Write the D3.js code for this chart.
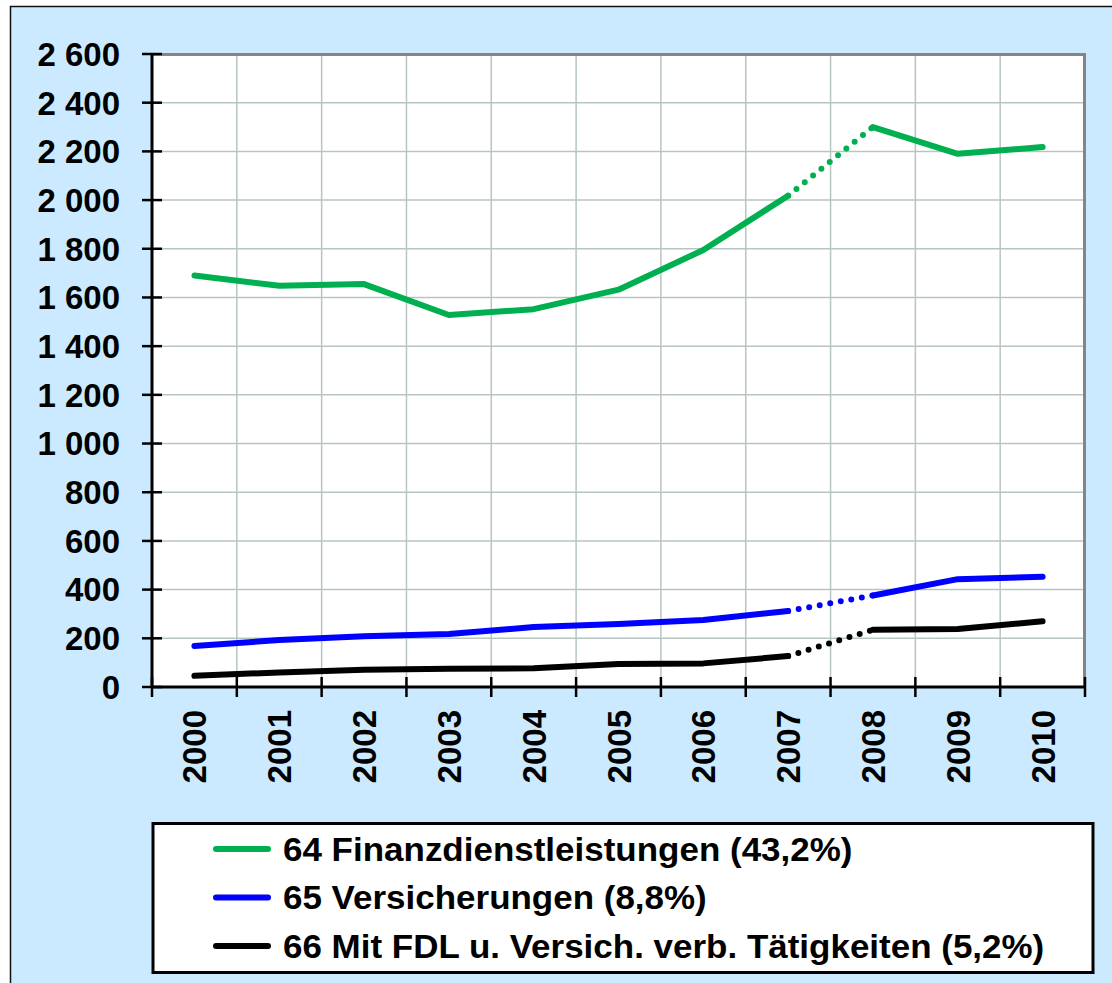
<!DOCTYPE html>
<html><head><meta charset="utf-8">
<script src="https://cdn.jsdelivr.net/npm/d3@7"></script>
<style>body{margin:0;background:#fff}svg{display:block}</style>
</head><body>
<script>
const years = ["2000","2001","2002","2003","2004","2005","2006","2007","2008","2009","2010"];
const finanz = [1690, 1648, 1655, 1528, 1552, 1632, 1795, 2018, 2300, 2190, 2218];
const versich = [168, 193, 208, 218, 246, 259, 275, 312, 376, 443, 453];
const taetig = [46, 60, 71, 75, 77, 94, 97, 127, 235, 238, 270];
const yTicks = [0,200,400,600,800,1000,1200,1400,1600,1800,2000,2200,2400,2600];
const seriesNames = ["64 Finanzdienstleistungen (43,2%)","65 Versicherungen (8,8%)","66 Mit FDL u. Versich. verb. Tätigkeiten (5,2%)"];
const seriesColors = ["#00b050","#0000ff","#000000"];
const dottedFrom = 7; // segment 2007 -> 2008 dotted

const W=1112,H=983;
const FONT="Liberation Sans, Arial, sans-serif";
const svg=d3.select("body").append("svg").attr("width",W).attr("height",H);
svg.append("rect").attr("x",10.5).attr("y",6.5).attr("width",1120).attr("height",1000)
  .attr("fill","#cceaff").attr("stroke","#111").attr("stroke-width",1.5);

const L=152,R=1085,T=54,B=687;
const x=d3.scaleBand().domain(years).range([L,R]).padding(0);
const y=d3.scaleLinear().domain([0,2600]).range([B,T]);

svg.append("rect").attr("x",L).attr("y",T).attr("width",R-L).attr("height",B-T).attr("fill","#fff");
// grid
const g=svg.append("g");
g.selectAll(".hg").data(yTicks).enter().append("line")
  .attr("x1",L).attr("x2",R).attr("y1",d=>y(d)).attr("y2",d=>y(d))
  .attr("stroke","#b7c5c2").attr("stroke-width",1.5);
const bounds=years.map(d=>x(d)).concat([R]);
g.selectAll(".vg").data(bounds).enter().append("line")
  .attr("x1",d=>d).attr("x2",d=>d).attr("y1",T).attr("y2",B)
  .attr("stroke","#b7c5c2").attr("stroke-width",1.5);
// plot border top/right
svg.append("path").attr("d",`M${L},${T+0.5}H${R-0.5}V${B}`).attr("fill","none")
  .attr("stroke","#858585").attr("stroke-width",3);

// axes
const yAxis=svg.append("g");
yAxis.append("line").attr("x1",L).attr("x2",L).attr("y1",T).attr("y2",B).attr("stroke","#000").attr("stroke-width",3);
yAxis.selectAll(".t").data(yTicks).enter().append("line")
  .attr("x1",L-10).attr("x2",L+10).attr("y1",d=>y(d)).attr("y2",d=>y(d)).attr("stroke","#000").attr("stroke-width",2.5);
const fmt=d=>{const s=String(d);return s.length>3?s.slice(0,s.length-3)+" "+s.slice(-3):s;};
yAxis.selectAll(".l").data(yTicks).enter().append("text")
  .attr("x",120).attr("y",d=>y(d)).attr("dy","0.36em").attr("text-anchor","end")
  .attr("font-family",FONT).attr("font-weight","bold").attr("font-size",33)
  .text(d=>fmt(d));

const xAxis=svg.append("g");
xAxis.append("line").attr("x1",L).attr("x2",R).attr("y1",B).attr("y2",B).attr("stroke","#000").attr("stroke-width",3);
xAxis.selectAll(".t").data(bounds).enter().append("line")
  .attr("x1",d=>d).attr("x2",d=>d).attr("y1",B-10).attr("y2",B+10).attr("stroke","#000").attr("stroke-width",2.5);
xAxis.selectAll(".l").data(years).enter().append("text")
  .attr("transform",d=>`translate(${x(d)+x.bandwidth()/2+12},710) rotate(-90)`)
  .attr("text-anchor","end")
  .attr("font-family",FONT).attr("font-weight","bold").attr("font-size",33)
  .text(d=>d);

// lines
const cx=i=>x(years[i])+x.bandwidth()/2;
const line=d3.line().x(d=>cx(d.i)).y(d=>y(d.v));
[finanz,versich,taetig].forEach((arr,k)=>{
  const pts=arr.map((v,i)=>({i,v}));
  const segA=pts.slice(0,dottedFrom+1), segB=pts.slice(dottedFrom,dottedFrom+2), segC=pts.slice(dottedFrom+1);
  [segA,segC].forEach(s=>svg.append("path").attr("d",line(s)).attr("fill","none")
    .attr("stroke",seriesColors[k]).attr("stroke-width",6).attr("stroke-linecap","round").attr("stroke-linejoin","round"));
  svg.append("path").attr("d",line(segB)).attr("fill","none").attr("stroke",seriesColors[k])
    .attr("stroke-width",6).attr("stroke-linecap","round").attr("stroke-dasharray","0 10.7").attr("stroke-dashoffset",-10.7);
});

// legend
const lg=svg.append("g");
lg.append("rect").attr("x",153).attr("y",823.5).attr("width",940).attr("height",149)
  .attr("fill","#fff").attr("stroke","#000").attr("stroke-width",3);
seriesNames.forEach((n,k)=>{
  const yy=849+k*48.5;
  lg.append("line").attr("x1",216).attr("x2",268).attr("y1",yy).attr("y2",yy)
    .attr("stroke",seriesColors[k]).attr("stroke-width",6).attr("stroke-linecap","round");
  lg.append("text").attr("transform",`translate(283,${yy}) scale(1.06,1)`).attr("dy","0.36em")
    .attr("font-family",FONT).attr("font-weight","bold").attr("font-size",33)
    .text(n);
});
</script>
</body></html>
